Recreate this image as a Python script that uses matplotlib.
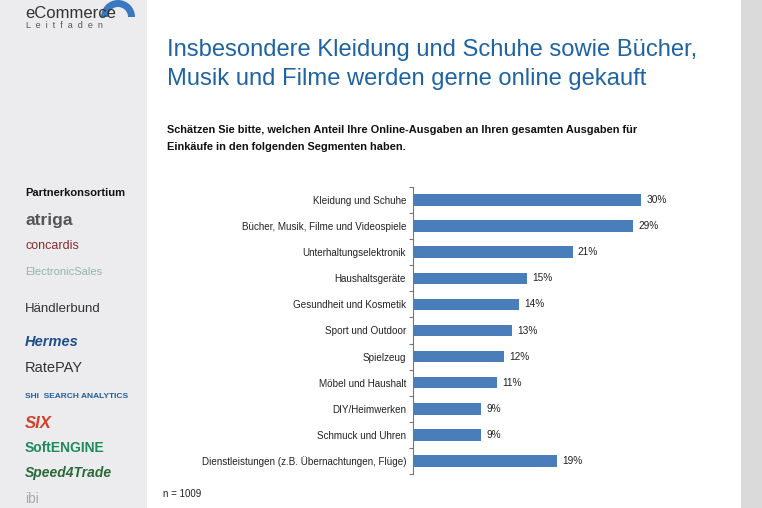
import matplotlib
matplotlib.use("Agg")
import matplotlib.pyplot as plt
from matplotlib.patches import Rectangle, Wedge

plt.rcParams['font.family'] = ['Liberation Sans', 'DejaVu Sans']

categories = [
    "Kleidung und Schuhe",
    "Bücher, Musik, Filme und Videospiele",
    "Unterhaltungselektronik",
    "Haushaltsgeräte",
    "Gesundheit und Kosmetik",
    "Sport und Outdoor",
    "Spielzeug",
    "Möbel und Haushalt",
    "DIY/Heimwerken",
    "Schmuck und Uhren",
    "Dienstleistungen (z.B. Übernachtungen, Flüge)",
]
values = [30, 29, 21, 15, 14, 13, 12, 11, 9, 9, 19]
value_labels = ["30%", "29%", "21%", "15%", "14%", "13%", "12%", "11%", "9%", "9%", "19%"]

partners = [
    ("atriga", "#555555", "bold", 12.5, "normal"),
    ("concardis", "#8a2d2d", "normal", 9, "normal"),
    ("ElectronicSales", "#8fb7a8", "normal", 8, "normal"),
    ("Händlerbund", "#333333", "normal", 9.5, "normal"),
    ("Hermes", "#1f4f8a", "bold", 10.5, "italic"),
    ("RatePAY", "#333333", "normal", 10.5, "normal"),
    ("SHI  SEARCH ANALYTICS", "#1f5f9e", "bold", 6, "normal"),
    ("SIX", "#d0402a", "bold", 12, "italic"),
    ("SoftENGINE", "#1f8a5a", "bold", 10, "normal"),
    ("Speed4Trade", "#2a6a3a", "bold", 10, "italic"),
    ("ibi", "#aaaaaa", "normal", 10, "normal"),
]
partner_y = [220, 246, 272, 309, 342, 368, 397, 423, 448, 473, 499]

W, H = 762, 508
fig = plt.figure(figsize=(W / 100, H / 100), dpi=100)
fig.patch.set_facecolor("white")

def fx(x):
    return x / W

def fy(y):
    return 1 - y / H

# sidebar and right strip
fig.patches.append(Rectangle((0, 0), fx(147), 1, transform=fig.transFigure,
                             facecolor="#ececee", edgecolor="none", zorder=0))
fig.patches.append(Rectangle((fx(741), 0), 1 - fx(741), 1, transform=fig.transFigure,
                             facecolor="#dadada", edgecolor="none", zorder=0))

# logo (pixel-coordinate overlay axes for the arc)
lax = fig.add_axes([0, 0, 1, 1], zorder=0.5)
lax.set_xlim(0, W)
lax.set_ylim(H, 0)
lax.axis("off")
lax.add_patch(Wedge((118, 17), 17, 180, 360, width=7, facecolor="#3a78c0", edgecolor="none"))

fig.text(fx(25), fy(13), "eCommerce", fontsize=12, color="#333333", va="center", ha="left",
         zorder=3)
fig.text(fx(26), fy(25), "L  e  i  t  f  a  d  e  n", fontsize=6.5, color="#555555",
         va="center", ha="left")

fig.text(fx(25), fy(193), "Partnerkonsortium", fontsize=8, fontweight="bold", color="#111111",
         va="center", ha="left")
for (name, col, wt, sz, st), y in zip(partners, partner_y):
    fig.text(fx(25), fy(y), name, fontsize=sz, fontweight=wt, style=st, color=col,
             va="center", ha="left")

# title
fig.text(fx(167), fy(50), "Insbesondere Kleidung und Schuhe sowie Bücher,", fontsize=17.1,
         color="#1f63a3", va="center", ha="left")
fig.text(fx(167), fy(79), "Musik und Filme werden gerne online gekauft", fontsize=17.1,
         color="#1f63a3", va="center", ha="left")
fig.text(fx(167), fy(130), "Schätzen Sie bitte, welchen Anteil Ihre Online-Ausgaben an Ihren gesamten Ausgaben für",
         fontsize=7.9, fontweight="bold", color="#111111", va="center", ha="left")
fig.text(fx(167), fy(147), "Einkäufe in den folgenden Segmenten haben.",
         fontsize=7.9, fontweight="bold", color="#111111", va="center", ha="left")
fig.text(fx(163), fy(494), "n = 1009", fontsize=7, color="#222222", va="center", ha="left")

# chart axes
ax_left, ax_top, ax_bottom = 413, 187, 474
px_per_unit = 7.6
xmax = 40
ax = fig.add_axes([fx(ax_left), fy(ax_bottom), xmax * px_per_unit / W, (ax_bottom - ax_top) / H])
ax.set_facecolor("none")
ypos = list(range(len(categories)))
ax.barh(ypos, values, height=0.44, color="#4a7ebb", edgecolor="none")
for y, v, lab in zip(ypos, values, value_labels):
    ax.text(v + 0.7, y, lab, va="center", ha="left", fontsize=7.3, color="#222222")
ax.set_xlim(0, xmax)
ax.set_ylim(len(categories) - 0.5, -0.5)
ax.set_yticks(ypos)
ax.set_yticklabels(categories, fontsize=7.1, color="#222222")
ax.tick_params(axis="y", which="major", length=0, pad=5)
ax.set_yticks([i + 0.5 for i in range(-1, len(categories))], minor=True)
ax.tick_params(axis="y", which="minor", length=3, width=0.8, color="#777777", direction="out")
ax.set_xticks([])
for s in ["top", "right", "bottom"]:
    ax.spines[s].set_visible(False)
ax.spines["left"].set_color("#777777")
ax.spines["left"].set_linewidth(0.8)

fig.savefig("out.png", dpi=100, facecolor=fig.get_facecolor())
